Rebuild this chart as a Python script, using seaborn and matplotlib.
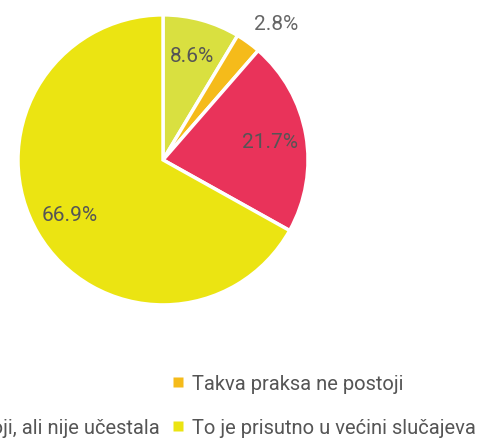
import matplotlib.pyplot as plt
import seaborn as sns
from matplotlib.lines import Line2D

# slices, clockwise from 12 o'clock
labels = ['Ne znam',
          'Takva praksa ne postoji',
          'Takva praksa postoji, ali nije učestala',
          'To je prisutno u većini slučajeva']
values = [8.6, 2.8, 21.7, 66.9]
colors = ['#d9e040', '#f5bb1a', '#e9335a', '#ebe412']

sns.set_theme(style='white')
plt.rcParams['font.family'] = ['Roboto', 'DejaVu Sans']
palette = sns.color_palette(colors)

fig = plt.figure(figsize=(4.81, 4.39), dpi=100)
ax = fig.add_axes([0.0374, 0.303, 0.603, 0.661])

wedges, texts, autotexts = ax.pie(values, colors=palette, startangle=90, counterclock=False,
                                  autopct='%.1f%%', pctdistance=0.75,
                                  wedgeprops=dict(edgecolor='white', linewidth=2.5),
                                  textprops=dict(color='#555555', fontsize=15))
# the small slice gets its label outside
autotexts[1].set_position((0.78, 0.94))
autotexts[1].set_color('#666666')
ax.set_xlim(-1, 1)
ax.set_ylim(-1, 1)
ax.set_aspect('equal')

# legend in two columns, left column runs off the canvas
order = [0, 2, 1, 3]
handles = [Line2D([], [], marker='s', linestyle='none', markersize=7,
                  markerfacecolor=palette[i], markeredgecolor='none') for i in order]
fig.legend(handles, [labels[i] for i in order], ncol=2, loc='lower right',
           bbox_to_anchor=(1.027, -0.04), frameon=False,
           prop=dict(size=14.5),
           labelcolor='#555555', handletextpad=0.3, columnspacing=0.5,
           handlelength=0.8, labelspacing=1.25)

fig.savefig('out.png', dpi=100)
